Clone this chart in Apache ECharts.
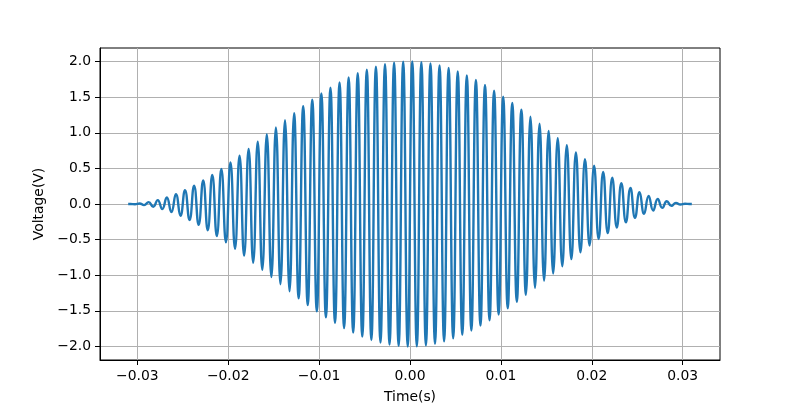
<!DOCTYPE html>
<html><head><meta charset="utf-8">
<script src="https://cdn.jsdelivr.net/npm/echarts@6/dist/echarts.min.js"></script>
<style>html,body{margin:0;padding:0;background:#fff}#c{width:800px;height:409px}</style>
</head><body><div id="c"></div>
<script>
// Time of each extremum of the signal (s)
const times = [
 -0.031, -0.03075, -0.03025, -0.02975, -0.02925, -0.02875, -0.02825, -0.02775, -0.02725, -0.02675,
 -0.02625, -0.02575, -0.02525, -0.02475, -0.02425, -0.02375, -0.02325, -0.02275, -0.02225, -0.02175,
 -0.02125, -0.02075, -0.02025, -0.01975, -0.01925, -0.01875, -0.01825, -0.01775, -0.01725, -0.01675,
 -0.01625, -0.01575, -0.01525, -0.01475, -0.01425, -0.01375, -0.01325, -0.01275, -0.01225, -0.01175,
 -0.01125, -0.01075, -0.01025, -0.00975, -0.00925, -0.00875, -0.00825, -0.00775, -0.00725, -0.00675,
 -0.00625, -0.00575, -0.00525, -0.00475, -0.00425, -0.00375, -0.00325, -0.00275, -0.00225, -0.00175,
 -0.00125, -0.00075, -0.00025,
 0.00025, 0.00075, 0.00125, 0.00175, 0.00225, 0.00275, 0.00325, 0.00375, 0.00425, 0.00475,
 0.00525, 0.00575, 0.00625, 0.00675, 0.00725, 0.00775, 0.00825, 0.00875, 0.00925, 0.00975,
 0.01025, 0.01075, 0.01125, 0.01175, 0.01225, 0.01275, 0.01325, 0.01375, 0.01425, 0.01475,
 0.01525, 0.01575, 0.01625, 0.01675, 0.01725, 0.01775, 0.01825, 0.01875, 0.01925, 0.01975,
 0.02025, 0.02075, 0.02125, 0.02175, 0.02225, 0.02275, 0.02325, 0.02375, 0.02425, 0.02475,
 0.02525, 0.02575, 0.02625, 0.02675, 0.02725, 0.02775, 0.02825, 0.02875, 0.02925, 0.02975,
 0.03025, 0.03075, 0.031
];
// Voltage at each extremum (V)
const volts = [
 0, 0.000, -0.003, 0.008, -0.016, 0.026, -0.039, 0.054, -0.071, 0.091,
 -0.114, 0.138, -0.165, 0.194, -0.225, 0.258, -0.293, 0.330, -0.368, 0.408,
 -0.450, 0.492, -0.537, 0.582, -0.629, 0.677, -0.725, 0.774, -0.824, 0.874,
 -0.924, 0.975, -1.025, 1.076, -1.126, 1.176, -1.226, 1.276, -1.325, 1.372,
 -1.419, 1.464, -1.508, 1.551, -1.592, 1.632, -1.670, 1.707, -1.742, 1.775,
 -1.806, 1.835, -1.862, 1.886, -1.909, 1.929, -1.946, 1.961, -1.974, 1.984,
 -1.992, 1.997, -2.000,
 2.000, -1.997, 1.992, -1.984, 1.974, -1.961, 1.946, -1.929, 1.909, -1.886,
 1.862, -1.835, 1.806, -1.775, 1.742, -1.707, 1.670, -1.632, 1.592, -1.551,
 1.508, -1.464, 1.419, -1.372, 1.325, -1.276, 1.226, -1.176, 1.126, -1.076,
 1.025, -0.975, 0.924, -0.874, 0.824, -0.774, 0.725, -0.677, 0.629, -0.582,
 0.537, -0.492, 0.450, -0.408, 0.368, -0.330, 0.293, -0.258, 0.225, -0.194,
 0.165, -0.138, 0.114, -0.091, 0.071, -0.054, 0.039, -0.026, 0.016, -0.008,
 0.003, 0.000, 0
];
const xTicks = [-0.03, -0.02, -0.01, 0, 0.01, 0.02, 0.03];
const yTicks = [-2.0, -1.5, -1.0, -0.5, 0, 0.5, 1.0, 1.5, 2.0];
const xName = 'Time(s)';
const yName = 'Voltage(V)';

const FONT = 'DejaVu Sans';
const fmt = (v, d) => v.toFixed(d).replace('-', '\u2212');
const pts = times.map((t, i) => [t, volts[i]]);

const chart = echarts.init(document.getElementById('c'), null, {renderer: 'canvas'});
chart.setOption({
  animation: false,
  backgroundColor: '#fff',
  grid: {left: 100, right: 80, top: 48, bottom: 45, show: true, borderColor: '#000', borderWidth: 1, backgroundColor: 'transparent'},
  xAxis: {
    type: 'value', min: -0.0341, max: 0.0341,
    name: xName, nameLocation: 'middle', nameGap: 30,
    nameTextStyle: {fontFamily: FONT, fontSize: 13.9, color: '#000'},
    axisLine: {show: true, onZero: false, lineStyle: {color: '#000', width: 1}},
    axisTick: {show: true, inside: false, length: 5, customValues: xTicks, lineStyle: {color: '#000', width: 1}},
    axisLabel: {customValues: xTicks, margin: 9, fontFamily: FONT, fontSize: 13.9, color: '#000', formatter: v => fmt(v, 2)},
    splitLine: {show: true, lineStyle: {color: '#b0b0b0', width: 1}}
  },
  yAxis: {
    type: 'value', min: -2.19, max: 2.19,
    name: yName, nameLocation: 'middle', nameGap: 50, nameRotate: 90,
    nameTextStyle: {fontFamily: FONT, fontSize: 13.9, color: '#000'},
    axisLine: {show: true, onZero: false, lineStyle: {color: '#000', width: 1}},
    axisTick: {show: true, inside: false, length: 5, customValues: yTicks, lineStyle: {color: '#000', width: 1}},
    axisLabel: {customValues: yTicks, margin: 9, fontFamily: FONT, fontSize: 13.9, color: '#000', formatter: v => fmt(v, 1)},
    splitLine: {show: true, lineStyle: {color: '#b0b0b0', width: 1}}
  },
  series: [{
    type: 'line', data: pts, showSymbol: false, smooth: 0.5,
    lineStyle: {color: '#1f77b4', width: 2.4}, z: 3
  }]
});
</script></body></html>
